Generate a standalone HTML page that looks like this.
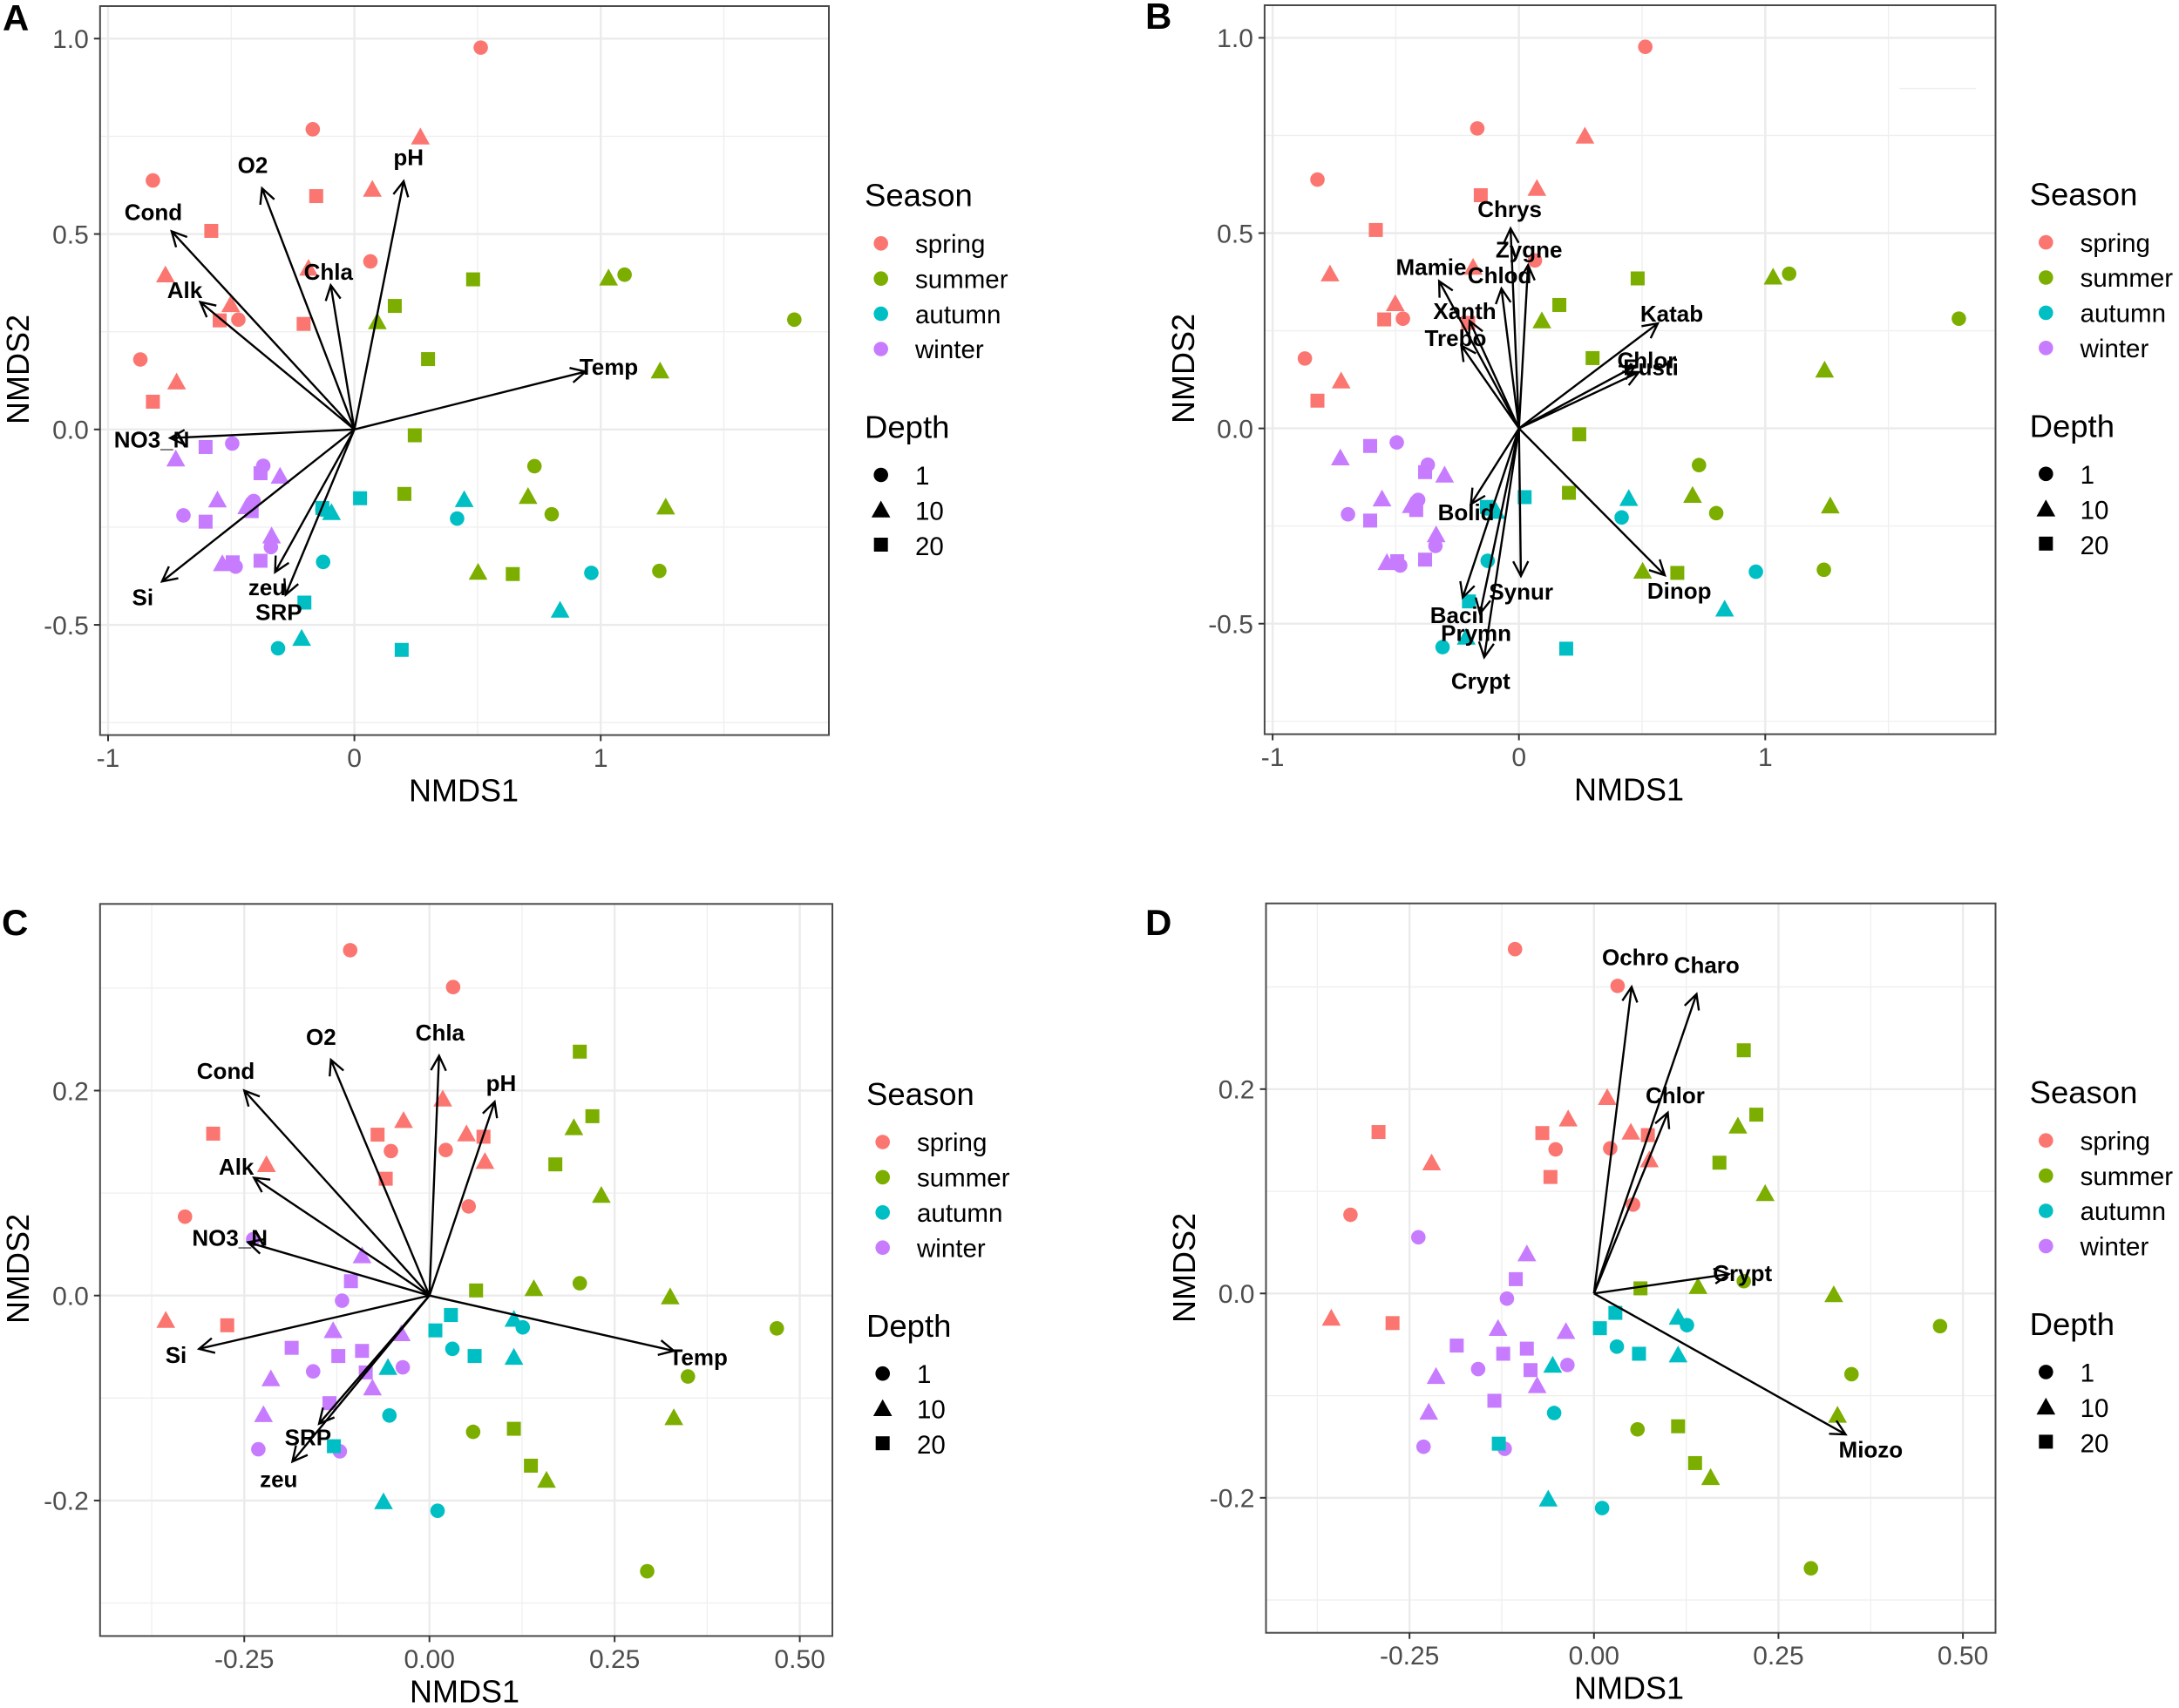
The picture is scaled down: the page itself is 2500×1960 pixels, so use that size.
<!DOCTYPE html>
<html lang="en">
<head>
<meta charset="utf-8">
<title>NMDS ordination panels A-D</title>
<style>
html,body{margin:0;padding:0;background:#fff;}
svg{display:block;font-family:"Liberation Sans",Arial,sans-serif;}
</style>
</head>
<body>
<svg id="figure" xmlns="http://www.w3.org/2000/svg" width="2500" height="1960" viewBox="0 0 2500 1960">
<rect x="0" y="0" width="2500" height="1960" fill="#ffffff"/>
<line x1="2179" x2="2267" y1="101.6" y2="101.6" stroke="#efefef" stroke-width="1.5"/>
</svg>
<script>
// ---- categories ----
const seasons = ['spring','summer','autumn','winter'];
const depths = ['1','10','20'];

// ---- sample scores, panels A and B ----
const abX = [0.513,-0.169,-0.818,0.065,-0.471,-0.869, 0.268,0.073,-0.186,-0.767,-0.502,-0.722, -0.155,-0.581,-0.547,-0.206,-0.818,
 1.097,1.786,0.731,0.801,1.238, 1.032,0.093,1.241,0.705,1.264,0.502, 0.482,0.164,0.299,0.245,0.203,0.643,
 0.417,-0.127,0.962,-0.310,-0.130, 0.446,-0.093,0.835,-0.214, 0.023,-0.130,-0.203,0.192,
 -0.496,-0.370,-0.409,-0.694,-0.339,-0.482, -0.725,-0.302,-0.556,-0.437,-0.336,-0.536, -0.604,-0.381,-0.417,-0.604,-0.494,-0.381];
const abY = [0.977,0.768,0.637,0.430,0.281,0.179, 0.749,0.615,0.413,0.396,0.320,0.122, 0.597,0.508,0.279,0.270,0.071,
 0.396,0.281,-0.094,-0.217,-0.362, 0.388,0.276,0.150,-0.171,-0.198,-0.365, 0.384,0.316,0.180,-0.015,-0.165,-0.370,
 -0.228,-0.339,-0.367,-0.560,-0.205, -0.179,-0.212,-0.462,-0.534, -0.176,-0.201,-0.443,-0.564,
 -0.036,-0.093,-0.183,-0.220,-0.301,-0.351, -0.075,-0.119,-0.180,-0.197,-0.272,-0.343, -0.045,-0.112,-0.209,-0.236,-0.340,-0.336];
const abSeason = [0,0,0,0,0,0,0,0,0,0,0,0,0,0,0,0,0, 1,1,1,1,1,1,1,1,1,1,1,1,1,1,1,1,1, 2,2,2,2,2,2,2,2,2,2,2,2,2, 3,3,3,3,3,3,3,3,3,3,3,3,3,3,3,3,3,3];
const abDepth = [0,0,0,0,0,0,1,1,1,1,1,1,2,2,2,2,2, 0,0,0,0,0,1,1,1,1,1,1,2,2,2,2,2,2, 0,0,0,0,0,1,1,1,1,2,2,2,2, 0,0,0,0,0,0,1,1,1,1,1,1,2,2,2,2,2,2];

// ---- sample scores, panels C and D ----
const cdX = [-0.107,0.032,-0.052,0.022,0.053,-0.330, 0.018,-0.035,0.050,0.075,-0.220,-0.356, -0.292,-0.070,0.073,-0.059,-0.273,
 0.203,0.469,0.349,0.059,0.294, 0.195,0.232,0.141,0.325,0.330,0.158, 0.203,0.220,0.170,0.063,0.114,0.137,
 0.126,0.031,-0.054,0.011, 0.114,0.114,-0.056,-0.062, 0.029,0.008,0.061,
 -0.238,-0.118,-0.157,-0.036,-0.231,-0.121, -0.091,-0.130,-0.038,-0.214,-0.077,-0.224, -0.106,-0.186,-0.123,-0.091,-0.086,-0.135,
 -0.129];
const cdY = [0.337,0.301,0.141,0.142,0.087,0.077, 0.192,0.171,0.158,0.131,0.128,-0.024, 0.158,0.157,0.155,0.114,-0.029,
 0.012,-0.032,-0.079,-0.133,-0.269, 0.164,0.098,0.007,-0.001,-0.119,-0.180, 0.238,0.175,0.128,0.005,-0.130,-0.166,
 -0.031,-0.052,-0.117,-0.210, -0.023,-0.060,-0.070,-0.201, -0.019,-0.034,-0.059,
 0.055,-0.005,-0.074,-0.070,-0.150,-0.152, 0.039,-0.034,-0.037,-0.081,-0.090,-0.116, 0.014,-0.051,-0.059,-0.054,-0.075,-0.105,
 -0.147];
const cdSeason = [0,0,0,0,0,0,0,0,0,0,0,0,0,0,0,0,0, 1,1,1,1,1,1,1,1,1,1,1,1,1,1,1,1,1, 2,2,2,2,2,2,2,2,2,2,2, 3,3,3,3,3,3,3,3,3,3,3,3,3,3,3,3,3,3, 2];
const cdDepth = [0,0,0,0,0,0,1,1,1,1,1,1,2,2,2,2,2, 0,0,0,0,0,1,1,1,1,1,1,2,2,2,2,2,2, 0,0,0,0,1,1,1,1,2,2,2, 0,0,0,0,0,0,1,1,1,1,1,1,2,2,2,2,2,2, 2];

// ---- fitted vectors ----
const aVecNames = ['pH','O2','Cond','Chla','Alk','Temp','NO3_N','Si','zeu','SRP'];
const aVecX = [0.200,-0.375,-0.742,-0.096,-0.626,0.939,-0.748,-0.781,-0.322,-0.279];
const aVecY = [0.635,0.617,0.507,0.369,0.326,0.148,-0.022,-0.389,-0.365,-0.423];

const bVecNames = ['Chrys','Zygne','Chlod','Mamie','Xanth','Trebo','Katab','Chlor','Eusti','Dinop','Synur','Crypt','Prymn','Bacil','Bolid'];
const bVecX = [-0.034,0.037,-0.071,-0.324,-0.200,-0.234,0.564,0.472,0.487,0.592,0.008,-0.141,-0.158,-0.228,-0.195];
const bVecY = [0.512,0.418,0.358,0.377,0.275,0.212,0.269,0.160,0.144,-0.376,-0.378,-0.586,-0.474,-0.433,-0.194];

const cVecNames = ['Chla','O2','pH','Cond','Alk','NO3_N','Si','Temp','SRP','zeu'];
const cVecX = [0.013,-0.133,0.088,-0.250,-0.237,-0.245,-0.311,0.330,-0.149,-0.185];
const cVecY = [0.234,0.230,0.189,0.200,0.115,0.052,-0.052,-0.054,-0.125,-0.162];

const dVecNames = ['Ochro','Charo','Chlor','Crypt','Miozo'];
const dVecX = [0.051,0.139,0.100,0.183,0.341];
const dVecY = [0.300,0.293,0.177,0.019,-0.138];

// ---- tick values and labels ----
const abXTicks = [-1,0,1];
const abXTickLabels = ['-1','0','1'];
const abYTicks = [1,0.5,0,-0.5];
const abYTickLabels = ['1.0','0.5','0.0','-0.5'];
const abXMinor = [-0.5,0.5,1.5];
const abYMinor = [0.75,0.25,-0.25,-0.75];

const cdXTicks = [-0.25,0,0.25,0.5];
const cdXTickLabels = ['-0.25','0.00','0.25','0.50'];
const cdYTicks = [0.2,0,-0.2];
const cdYTickLabels = ['0.2','0.0','-0.2'];
const cdXMinor = [-0.375,-0.125,0.125,0.375];
const cdYMinor = [0.3,0.1,-0.1,-0.3];

const labelStretch = 1.1;

// ---- styling ----
const seasonColors = ['#fb7670','#7CAE00','#00BFC4','#C77CFF'];
const NS = 'http://www.w3.org/2000/svg';
const root = document.getElementById('figure');

function mk(tag, parent){
  const el = document.createElementNS(NS, tag);
  parent.appendChild(el);
  return el;
}
function setAll(el, props){
  for (const k in props) el.setAttribute(k, props[k]);
  return el;
}

function drawMarker(parent, px, py, depthIdx, color, name){
  let el;
  if (depthIdx === 0){
    el = mk('circle', parent);
    setAll(el, {cx:px, cy:py, r:8.3, fill:color});
  } else if (depthIdx === 1){
    el = mk('polygon', parent);
    const pts = [[px,py-10.5],[px+10.8,py+8.8],[px-10.8,py+8.8]];
    setAll(el, {points:pts.map(p=>p[0].toFixed(1)+','+p[1].toFixed(1)).join(' '), fill:color});
  } else {
    el = mk('rect', parent);
    setAll(el, {x:px-8, y:py-8, width:16, height:16, fill:color});
  }
  
  
  return el;
}

function drawText(parent, x, y, str, size, opts, name){
  const t = mk('text', parent);
  setAll(t, {x:x, y:y, 'font-size':size});
  if (opts) setAll(t, opts);
  t.textContent = str;
  
  
  return t;
}

function drawPanel(cfg){
  const g = mk('g', root);
  
  

  const sx = v => cfg.x0 + v * cfg.xs;
  const sy = v => cfg.y0 - v * cfg.ys;

  // minor grid
  cfg.xMinor.forEach(v => {
    const l = mk('line', g);
    setAll(l, {x1:sx(v), x2:sx(v), y1:cfg.T, y2:cfg.B, stroke:'#efefef', 'stroke-width':1.3});
    
    
  });
  cfg.yMinor.forEach(v => {
    const l = mk('line', g);
    setAll(l, {x1:cfg.L, x2:cfg.R, y1:sy(v), y2:sy(v), stroke:'#efefef', 'stroke-width':1.3});
    
    
  });
  // major grid
  cfg.xTicks.forEach(v => {
    const l = mk('line', g);
    setAll(l, {x1:sx(v), x2:sx(v), y1:cfg.T, y2:cfg.B, stroke:'#ebebeb', 'stroke-width':2.4});
    
    
  });
  cfg.yTicks.forEach(v => {
    const l = mk('line', g);
    setAll(l, {x1:cfg.L, x2:cfg.R, y1:sy(v), y2:sy(v), stroke:'#ebebeb', 'stroke-width':2.4});
    
    
  });

  // sample points
  cfg.px.forEach((v, i) => {
    const s = cfg.ps[i];
    const d = cfg.pd[i];
    drawMarker(g, sx(v), sy(cfg.py[i]), d, seasonColors[s], 'point-' + seasons[s] + '-depth-' + depths[d]);
  });

  // panel border
  const border = mk('rect', g);
  setAll(border, {x:cfg.L, y:cfg.T, width:cfg.R-cfg.L, height:cfg.B-cfg.T, fill:'none', stroke:'#4a4a4a', 'stroke-width':2});
  
  

  // ticks + labels
  cfg.xTicks.forEach((v, i) => {
    const l = mk('line', g);
    setAll(l, {x1:sx(v), x2:sx(v), y1:cfg.B, y2:cfg.B+7, stroke:'#333333', 'stroke-width':2});
    
    
    drawText(g, sx(v), cfg.B+36.5, cfg.xLabels[i], 30, {'text-anchor':'middle', fill:'#4d4d4d'}, 'x-tick-label');
  });
  cfg.yTicks.forEach((v, i) => {
    const l = mk('line', g);
    setAll(l, {x1:cfg.L-7, x2:cfg.L, y1:sy(v), y2:sy(v), stroke:'#333333', 'stroke-width':2});
    
    
    drawText(g, cfg.L-13, sy(v)+10.8, cfg.yLabels[i], 30, {'text-anchor':'end', fill:'#4d4d4d'}, 'y-tick-label');
  });

  // vectors
  const ox = sx(0), oy = sy(0);
  const headLen = 19, headAng = 27 * Math.PI / 180;
  cfg.vNames.forEach((nm, i) => {
    const tx = sx(cfg.vx[i]), ty = sy(cfg.vy[i]);
    const a = Math.atan2(ty-oy, tx-ox);
    const p = mk('path', g);
    const h1x = tx - headLen*Math.cos(a-headAng), h1y = ty - headLen*Math.sin(a-headAng);
    const h2x = tx - headLen*Math.cos(a+headAng), h2y = ty - headLen*Math.sin(a+headAng);
    setAll(p, {d:'M'+ox+' '+oy+'L'+tx+' '+ty+'M'+h1x+' '+h1y+'L'+tx+' '+ty+'L'+h2x+' '+h2y,
      fill:'none', stroke:'#000000', 'stroke-width':2.4});
    
    
  });
  cfg.vNames.forEach((nm, i) => {
    const tx = sx(cfg.vx[i] * labelStretch), ty = sy(cfg.vy[i] * labelStretch);
    drawText(g, tx, ty+10, nm, 26, {'text-anchor':'middle', 'font-weight':'bold', fill:'#000000'}, 'vector-label-' + nm.toLowerCase());
  });

  // axis titles
  drawText(g, cfg.xTitleX, cfg.xTitleY, 'NMDS1', 36, {'text-anchor':'middle', fill:'#000000'}, 'x-axis-title');
  drawText(g, 0, 0, 'NMDS2', 36, {'text-anchor':'middle', fill:'#000000',
    transform:'translate(' + cfg.yTitleX + ' ' + cfg.yTitleY + ') rotate(-90)'}, 'y-axis-title');

  // panel letter
  drawText(g, cfg.tagX, cfg.tagY, cfg.id, 42, {'font-weight':'bold', fill:'#000000'}, 'panel-tag');

  // legend
  const lx = cfg.legX, dy = cfg.legDY;
  const lg = mk('g', g);
  
  
  drawText(lg, lx, 236.7+dy, 'Season', 36.5, {fill:'#000000'}, 'legend-title-season');
  seasons.forEach((s, i) => {
    drawMarker(lg, lx+18.7, 279.3+dy+i*40.4, 0, seasonColors[i], 'legend-key-' + s);
    drawText(lg, lx+58, 290+dy+i*40.4, s, 29.5, {fill:'#000000'}, 'legend-entry-' + s);
  });
  drawText(lg, lx, 502.7+dy, 'Depth', 36.5, {fill:'#000000'}, 'legend-title-depth');
  depths.forEach((d, i) => {
    drawMarker(lg, lx+18.7, 545+dy+i*40, i, '#000000', 'legend-key-depth-' + d);
    drawText(lg, lx+58, 556+dy+i*40.5, d, 29.5, {fill:'#000000'}, 'legend-entry-depth-' + d);
  });
}

drawPanel({id:'A', L:114.8, R:951, T:7, B:843.5, x0:406.6, xs:282.6, y0:492.8, ys:448.5,
  px:abX, py:abY, ps:abSeason, pd:abDepth, vNames:aVecNames, vx:aVecX, vy:aVecY,
  xTicks:abXTicks, xLabels:abXTickLabels, yTicks:abYTicks, yLabels:abYTickLabels, xMinor:abXMinor, yMinor:abYMinor,
  xTitleX:532, xTitleY:919.5, yTitleX:33, yTitleY:424, tagX:3, tagY:35, legX:992, legDY:0});

drawPanel({id:'B', L:1450.9, R:2289.5, T:6, B:842.5, x0:1742.7, xs:282.6, y0:491.6, ys:448.2,
  px:abX, py:abY, ps:abSeason, pd:abDepth, vNames:bVecNames, vx:bVecX, vy:bVecY,
  xTicks:abXTicks, xLabels:abXTickLabels, yTicks:abYTicks, yLabels:abYTickLabels, xMinor:abXMinor, yMinor:abYMinor,
  xTitleX:1869, xTitleY:918.5, yTitleX:1370, yTitleY:423, tagX:1314, tagY:33, legX:2328.6, legDY:-1.2});

drawPanel({id:'C', L:114.8, R:955, T:1037.3, B:1877.4, x0:492.7, xs:849.8, y0:1486.7, ys:1176,
  px:cdX, py:cdY, ps:cdSeason, pd:cdDepth, vNames:cVecNames, vx:cVecX, vy:cVecY,
  xTicks:cdXTicks, xLabels:cdXTickLabels, yTicks:cdYTicks, yLabels:cdYTickLabels, xMinor:cdXMinor, yMinor:cdYMinor,
  xTitleX:533, xTitleY:1953.5, yTitleX:33, yTitleY:1456, tagX:2, tagY:1073, legX:994, legDY:1031.2});

drawPanel({id:'D', L:1452.5, R:2289.5, T:1036.7, B:1873.7, x0:1828.8, xs:846.6, y0:1484.3, ys:1172.5,
  px:cdX, py:cdY, ps:cdSeason, pd:cdDepth, vNames:dVecNames, vx:dVecX, vy:dVecY,
  xTicks:cdXTicks, xLabels:cdXTickLabels, yTicks:cdYTicks, yLabels:cdYTickLabels, xMinor:cdXMinor, yMinor:cdYMinor,
  xTitleX:1869, xTitleY:1949.5, yTitleX:1371, yTitleY:1455, tagX:1314, tagY:1073, legX:2328.6, legDY:1029.4});
</script>
</body>
</html>
